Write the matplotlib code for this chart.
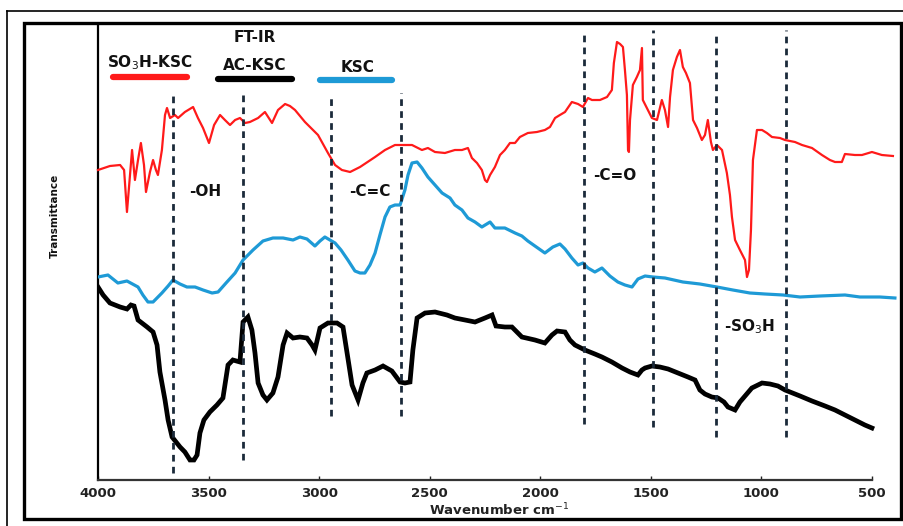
import matplotlib
matplotlib.use("Agg")
import matplotlib.pyplot as plt
from matplotlib.lines import Line2D
from matplotlib.patches import Rectangle

# ---------------- data (wavenumber cm-1, transmittance a.u.) ----------------
so3h_wn = [4000, 3946, 3900, 3882, 3869, 3855, 3846, 3833, 3819, 3806, 3792, 3783, 3765, 3751,
           3738, 3729, 3711, 3697, 3688, 3674, 3652, 3638, 3607, 3570, 3548, 3525, 3498, 3475,
           3448, 3426, 3403, 3380, 3358, 3335, 3313, 3276, 3245, 3213, 3186, 3154, 3132, 3109,
           3064, 3005, 2960, 2928, 2897, 2860, 2815, 2747, 2702, 2657, 2612, 2580, 2553, 2535,
           2508, 2476, 2431, 2386, 2354, 2327, 2309, 2286, 2264, 2250, 2241, 2227, 2205, 2182,
           2160, 2137, 2114, 2092, 2056, 2015, 1979, 1956, 1933, 1911, 1888, 1857, 1829, 1807,
           1784, 1766, 1730, 1698, 1676, 1667, 1653, 1639, 1626, 1617, 1608, 1603, 1599, 1594,
           1581, 1563, 1549, 1540, 1536, 1513, 1495, 1472, 1450, 1436, 1422, 1413, 1400, 1382,
           1368, 1355, 1341, 1323, 1309, 1291, 1269, 1255, 1242, 1228, 1219, 1201, 1178, 1156,
           1142, 1133, 1119, 1097, 1074, 1065, 1056, 1047, 1038, 1020, 997, 975, 952, 916, 893,
           848, 816, 771, 726, 690, 667, 636, 622, 577, 545, 500, 455, 405]
so3h_t = [62, 62.8, 63, 62, 53.6, 61, 66, 60, 64, 67.4, 63, 57.6, 61.6, 64,
          62, 61, 66, 73, 74.4, 72.4, 73, 72.4, 73.6, 74.6, 72.4, 70.4, 67.4, 71,
          73, 72, 71, 72, 72.4, 71.4, 71.6, 72.4, 73.6, 71.4, 74, 75.2, 74.8, 74,
          71.6, 69, 65.4, 63, 62, 61.6, 62.6, 64.6, 66, 67, 67, 67, 66.4, 66,
          66.4, 65.6, 65.4, 66, 66, 66.4, 64.4, 63.4, 62, 60, 59.6, 61, 62.6, 65,
          66, 67.4, 67.4, 68.6, 69.4, 69.6, 70, 70.6, 72.4, 73, 73.6, 75.6, 75.2, 74.6,
          76.4, 76, 76, 76.6, 78, 83.4, 87.6, 87.2, 86.6, 82, 77, 66, 65.6, 72,
          79, 80.6, 82, 86.4, 76, 74, 72.4, 72, 76, 74, 70.6, 76.6, 82, 84.6,
          86, 82.6, 81.4, 79.4, 72, 70.4, 68, 69, 72, 67.6, 66, 67, 66, 61.4,
          57, 52.6, 48, 46, 44, 40.6, 42, 50, 64, 70, 70, 69.4, 68.6, 68.4, 68,
          67.6, 67, 66.4, 65, 64, 63.6, 63.6, 65.2, 65, 65, 65.6, 65, 64.8]

ac_wn = [4000, 3977, 3946, 3900, 3869, 3851, 3837, 3819, 3778, 3751, 3733, 3720, 3697, 3683,
         3665, 3629, 3607, 3584, 3566, 3552, 3539, 3521, 3494, 3462, 3435, 3412, 3390, 3358,
         3344, 3322, 3304, 3290, 3276, 3254, 3236, 3209, 3186, 3163, 3145, 3118, 3087, 3055,
         3032, 3019, 2996, 2960, 2919, 2892, 2870, 2851, 2824, 2802, 2784, 2747, 2711, 2671,
         2634, 2612, 2589, 2576, 2557, 2521, 2476, 2422, 2386, 2340, 2295, 2250, 2218, 2200,
         2160, 2128, 2101, 2083, 2024, 1979, 1947, 1924, 1888, 1866, 1843, 1798, 1753, 1721,
         1676, 1630, 1594, 1558, 1540, 1526, 1495, 1459, 1422, 1377, 1332, 1300, 1278, 1255,
         1224, 1196, 1169, 1151, 1119, 1097, 1070, 1043, 997, 961, 925, 893, 825, 771,
         712, 667, 622, 577, 532, 500]
ac_t = [38.6, 37, 35.4, 34.6, 34.2, 35, 34.8, 32, 30.6, 29.6, 27, 21.6, 16, 12,
        8.6, 6.6, 5.6, 4, 4, 5, 9.4, 12, 13.6, 15, 16.4, 23, 24, 23.6,
        31.6, 32.6, 30, 25.4, 19.4, 17, 16, 17.4, 20.6, 27, 29.4, 28.4, 28.6, 28.4,
        27, 26, 30.4, 31.4, 31.4, 30.6, 24.4, 19, 16, 19.4, 21.4, 22, 22.8, 21.8,
        19.6, 19.4, 19.6, 26, 32.4, 33.4, 33.6, 33, 32.4, 32, 31.6, 32.4, 33, 30.8,
        30.6, 30.6, 29.4, 28.6, 28, 27.4, 29, 29.8, 29.6, 28, 27, 26, 25.2, 24.6,
        23.6, 22.4, 21.6, 21, 22, 22.4, 22.8, 22.6, 22.2, 21.4, 20.6, 20, 18, 17.2,
        16.6, 16.4, 15.6, 14.6, 14, 15.6, 17, 18.4, 19.4, 19.2, 18.8, 18, 16.8, 15.8,
        14.8, 14, 13, 12, 11, 10.4]

ksc_wn = [4000, 3955, 3910, 3869, 3819, 3797, 3774, 3751, 3711, 3683, 3661, 3629, 3598, 3561,
          3525, 3484, 3457, 3421, 3380, 3344, 3299, 3254, 3209, 3163, 3118, 3087, 3055, 3019,
          2996, 2974, 2928, 2901, 2870, 2838, 2815, 2793, 2770, 2747, 2725, 2702, 2680, 2657,
          2634, 2612, 2598, 2580, 2557, 2535, 2508, 2476, 2444, 2408, 2386, 2354, 2327, 2295,
          2264, 2227, 2205, 2160, 2114, 2083, 2056, 2024, 1979, 1943, 1911, 1888, 1857, 1829,
          1807, 1784, 1753, 1721, 1685, 1649, 1617, 1585, 1558, 1526, 1490, 1436, 1355, 1278,
          1201, 1129, 1052, 984, 902, 825, 735, 622, 554, 464, 396]
ksc_t = [40.6, 41, 39.4, 39.8, 38.6, 37, 35.6, 35.6, 37.4, 38.8, 40, 39.2, 38.6, 38.6,
         38, 37.4, 37.6, 39.4, 41.4, 44, 46, 47.8, 48.4, 48.4, 48, 48.6, 48.2, 46.8,
         47.8, 48.6, 47.4, 46, 44, 41.8, 41.4, 41.4, 43, 45.4, 49, 52.6, 54.6, 55,
         55, 58, 61, 63.4, 63.6, 62.4, 60.6, 59, 57.4, 56.4, 55, 54, 52.4, 51.6,
         50.6, 51.6, 50.4, 50.4, 49.4, 48.8, 47.8, 46.8, 45.4, 46.6, 47.2, 46.2, 44.4, 43,
         43.4, 42.4, 41.6, 42.4, 40.8, 39.6, 39, 38.6, 40.2, 40.8, 40.6, 40.4, 39.6, 39.2,
         38.6, 38, 37.4, 37.2, 37, 36.6, 36.8, 37, 36.6, 36.6, 36.4]

# band marker lines: wavenumber, lower and upper extent
band_wn = [3661, 3344, 2946, 2630, 1802, 1490, 1205, 889]
band_lo = [1.4, 4, 12.8, 12.8, 11.2, 10.6, 8.6, 8.6]
band_hi = [77.4, 77, 77, 77.4, 89.4, 90, 89.4, 90]

group_labels = ["-OH", "-C=C", "-C=O", "-SO$_3$H"]
group_wn = [3516, 2770, 1662, 1052]
group_t = [57.6, 57.6, 61, 30.6]

series_names = ["SO$_3$H-KSC", "AC-KSC", "KSC"]
series_colors = ["#ff1a1a", "#000000", "#1e9ad6"]

xticks = [4000, 3500, 3000, 2500, 2000, 1500, 1000, 500]

# ---------------- figure ----------------
W, H = 904, 526
fig = plt.figure(figsize=(W / 100, H / 100), dpi=100)
fx = lambda px: px / W
fy = lambda py: 1 - py / H

# outer thin frame and inner thick frame
fig.add_artist(Line2D([fx(7), fx(7)], [fy(11), fy(530)], color="black", lw=1.2))
fig.add_artist(Line2D([fx(7), fx(910)], [fy(11), fy(11)], color="black", lw=1.2))
fig.add_artist(Rectangle((fx(24), fy(519)), fx(901) - fx(24), fy(23) - fy(519),
                         fill=False, ec="black", lw=2.4))

ax = fig.add_axes([fx(98), fy(480), fx(900) - fx(98), fy(25) - fy(480)])
ax.set_xlim(4000, 373)
ax.set_ylim(0, 91)
for s in ["top", "right"]:
    ax.spines[s].set_visible(False)
ax.spines["left"].set_linewidth(1.6)
ax.spines["bottom"].set_linewidth(1.6)
ax.spines["bottom"].set_color("#333333")
ax.spines["bottom"].set_bounds(500, 4000)
ax.set_yticks([])
ax.set_xticks(xticks)
ax.tick_params(axis="x", direction="in", length=3, width=1, pad=5, labelsize=9.5,
               colors="#222222")
for lab in ax.get_xticklabels():
    lab.set_fontweight("bold")
ax.set_xlabel("Wavenumber cm$^{-1}$", fontsize=9.5, fontweight="bold", labelpad=1,
              color="#222222")

ax.plot(ac_wn, ac_t, color=series_colors[1], lw=3.4, zorder=2, solid_joinstyle="miter")
ax.plot(ksc_wn, ksc_t, color=series_colors[2], lw=2.3, zorder=3)
ax.plot(so3h_wn, so3h_t, color=series_colors[0], lw=1.6, zorder=4, clip_on=False)

for wn, lo, hi in zip(band_wn, band_lo, band_hi):
    ax.plot([wn, wn], [lo, hi], color="#1b2a3a", lw=2.0, ls=(0, (2.4, 1.9)), zorder=5)

for lab, wn, t in zip(group_labels, group_wn, group_t):
    ax.text(wn, t, lab, ha="center", va="center", fontsize=11, fontweight="bold",
            color="#111111", zorder=6)

# title, y label
fig.text(fx(255), fy(37), "FT-IR", ha="center", va="center", fontsize=11,
         fontweight="bold", color="#111111")
fig.text(fx(55), fy(216), "Transmittance", ha="center", va="center", rotation=90,
         fontsize=7.5, fontweight="bold", color="#111111")

# legend-like labels with bars
leg_text_xy = [(150, 63), (255, 65), (358, 68)]
leg_bar = [(113, 187, 77), (218, 292, 79), (320, 392, 80)]
for name, col, (tx, ty), (x0, x1, by) in zip(series_names, series_colors, leg_text_xy, leg_bar):
    fig.text(fx(tx), fy(ty), name, ha="center", va="center", fontsize=11,
             fontweight="bold", color="#111111")
    fig.add_artist(Line2D([fx(x0), fx(x1)], [fy(by), fy(by)], color=col, lw=4.5,
                          solid_capstyle="round"))

fig.savefig("out.png", dpi=100)
